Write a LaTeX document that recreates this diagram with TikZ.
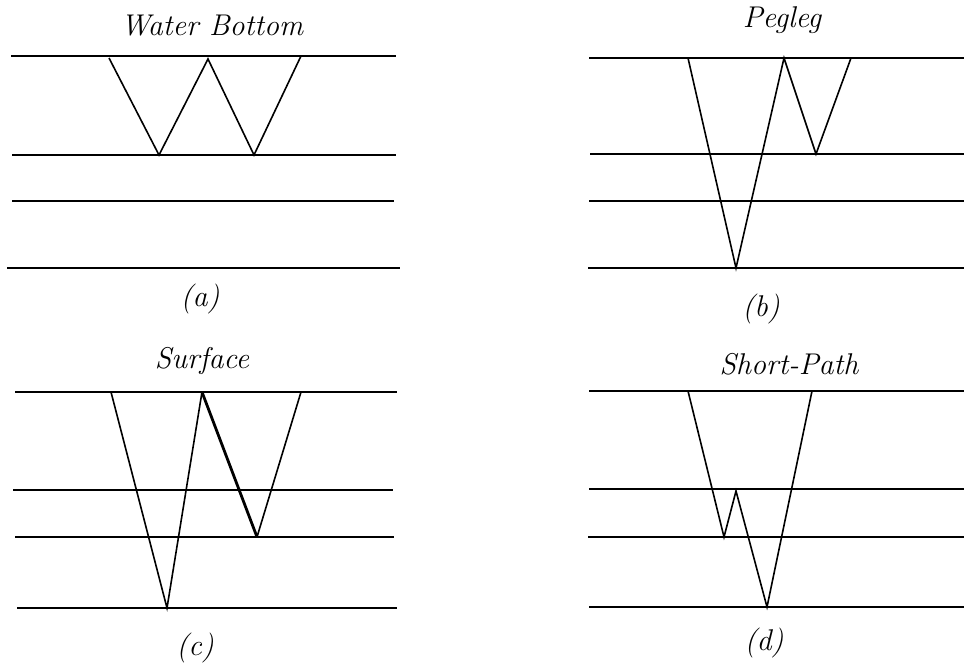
\documentclass[tikz,border=0pt]{standalone}
\usepackage{tikz}
\usetikzlibrary{positioning}

\begin{document}
\begin{tikzpicture}[
    x=1pt, y=-1pt,
    layer/.style = {line width=2pt},
    ray/.style   = {line width=1.6pt, line join=miter},
    title/.style = {font=\fontsize{30}{33}\selectfont\itshape, inner sep=0pt},
    tag/.style   = {font=\fontsize{30}{33}\selectfont\itshape, inner sep=0pt}
  ]
  \useasboundingbox (0,0) rectangle (964,662);

  % (a) Water Bottom
  \node[title] (ta) at (212,26) {Water Bottom};
  \draw[layer] (11,56)  -- (396,56);
  \draw[layer] (12,155) -- (396,155);
  \draw[layer] (12,201) -- (394,201);
  \draw[layer] (7,268)  -- (400,268);
  \coordinate (a0) at (109,58);
  \coordinate (a1) at (159,155);
  \coordinate (a2) at (208,59);
  \coordinate (a3) at (254,155);
  \coordinate (a4) at (301,56);
  \draw[ray] (a0) -- (a1) -- (a2) -- (a3) -- (a4);
  \node[tag] (la) at (200,299) {(a)};

  % (b) Pegleg
  \node[title] (tb) at (782,20) {Pegleg};
  \draw[layer] (589,58)  -- (964,58);
  \draw[layer] (590,154) -- (964,154);
  \draw[layer] (589,201) -- (964,201);
  \draw[layer] (588,268) -- (964,268);
  \coordinate (b0) at (688,58);
  \coordinate (b1) at (736,268);
  \coordinate (b2) at (784,58);
  \coordinate (b3) at (816,154);
  \coordinate (b4) at (851,58);
  \draw[ray] (b0) -- (b1) -- (b2) -- (b3) -- (b4);
  \node[tag] (lb) at (761,309) {(b)};

  % (c) Surface
  \node[title] (tc) at (202,361) {Surface};
  \draw[layer] (15,392)  -- (397,392);
  \draw[layer] (13,490)  -- (393,490);
  \draw[layer] (15,537)  -- (394,537);
  \draw[layer] (17,608)  -- (397,608);
  \coordinate (c0) at (111,392);
  \coordinate (c1) at (167,608);
  \coordinate (c2) at (202,392);
  \coordinate (c3) at (257,537);
  \coordinate (c4) at (301,392);
  \draw[ray] (c0) -- (c1) -- (c2);
  \draw[ray, line width=2.8pt] (c2) -- (c3);
  \draw[ray] (c3) -- (c4);
  \node[tag] (lc) at (195,648) {(c)};

  % (d) Short-Path
  \node[title] (td) at (789,364) {Short-Path};
  \draw[layer] (589,391) -- (964,391);
  \draw[layer] (589,489) -- (964,489);
  \draw[layer] (588,537) -- (964,537);
  \draw[layer] (589,607) -- (964,607);
  \coordinate (d0) at (688,391);
  \coordinate (d1) at (724,537);
  \coordinate (d2) at (736,491);
  \coordinate (d3) at (767,607);
  \coordinate (d4) at (812,391);
  \draw[ray] (d0) -- (d1) -- (d2) -- (d3) -- (d4);
  \node[tag] (ld) at (764,643) {(d)};
\end{tikzpicture}
\end{document}
